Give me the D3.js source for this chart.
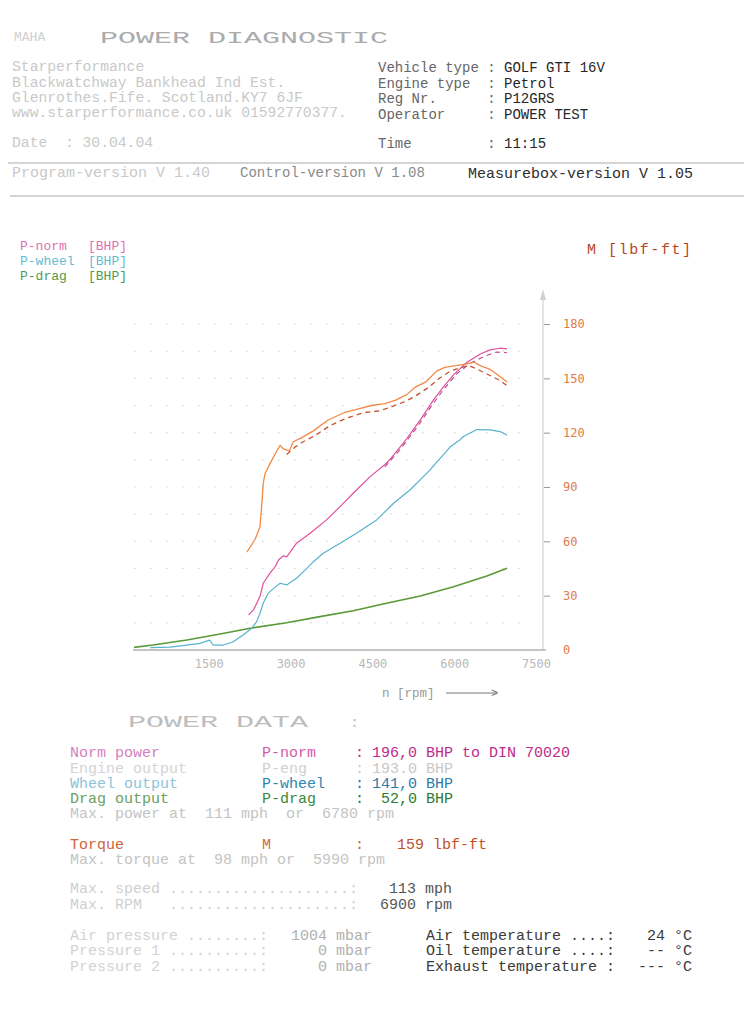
<!DOCTYPE html>
<html>
<head>
<meta charset="utf-8">
<script src="https://cdn.jsdelivr.net/npm/d3@7/dist/d3.min.js"></script>
<style>
  body { margin: 0; background: #fff; }
  svg { display: block; }
  text { font-family: "Liberation Mono", "DejaVu Sans Mono", monospace; }
</style>
</head>
<body>
<div id="chart"></div>
<script>
// ---- data ----
const torqueRpm = [2070, 2220, 2310, 2340, 2370, 2400, 2460, 2530, 2620, 2680, 2740, 2850, 2920, 3060, 3290, 3560, 3850, 4100, 4350, 4600, 4800, 5000, 5150, 5350, 5550, 5700, 5900, 6100, 6230, 6350, 6530, 6710, 6840];
const torqueM   = [54, 61, 68, 79, 92, 97, 101, 105, 110, 113, 111, 110, 115, 117, 121, 127, 131, 133, 135, 136, 138, 141, 145, 148, 154, 156, 157, 158, 159, 157, 155, 151, 148];

const torque2Rpm = [2800, 2950, 3100, 3300, 3600, 3900, 4200, 4500, 4700, 4950, 5150, 5400, 5600, 5800, 6000, 6150, 6300, 6500, 6700, 6840];
const torque2M   = [108, 112, 115, 118, 124, 128, 131, 132, 134, 137, 140, 145, 150, 154, 156, 157, 155, 152, 149, 146];

const normRpm = [2100, 2190, 2310, 2370, 2490, 2590, 2650, 2740, 2800, 2980, 3230, 3530, 3780, 4020, 4330, 4630, 4760, 5000, 5250, 5490, 5670, 5860, 6100, 6350, 6530, 6710, 6840];
const normP   = [22.6, 25.8, 34.4, 43, 49.4, 53.7, 58, 60.7, 60, 68.8, 75.2, 83.8, 92.4, 101, 111.7, 120.3, 125.6, 136, 148.2, 161, 169.3, 177.2, 185.2, 190.7, 193.3, 194.4, 194];

const engRpm = [4600, 4900, 5200, 5430, 5670, 5920, 6160, 6410, 6650, 6840];
const engP   = [118, 130, 144, 156, 167.5, 178, 184.5, 189, 192, 191.5];

const wheelRpm = [300, 660, 970, 1210, 1390, 1450, 1640, 1820, 2000, 2160, 2250, 2310, 2370, 2460, 2560, 2680, 2800, 2980, 3170, 3290, 3470, 3780, 4080, 4450, 4760, 5060, 5430, 5550, 5730, 5800, 5980, 6040, 6290, 6530, 6710, 6840];
const wheelP   = [1.5, 1.8, 3.2, 4.3, 6.4, 3.2, 3.2, 5.3, 9.7, 14, 18.3, 23.6, 30.1, 36.5, 39.7, 43, 41.9, 46.2, 52.6, 56.9, 62.3, 68.8, 75.2, 83.8, 94.5, 103.1, 116, 121, 128, 131, 135.5, 137.5, 142, 141.8, 140.7, 138.5];

const dragRpm = [0, 350, 970, 1580, 2130, 2800, 3410, 4020, 4630, 5250, 5860, 6470, 6840];
const dragP   = [1.7, 3.2, 6.4, 10.3, 14, 17.6, 21.5, 25.3, 30.1, 34.8, 40.8, 47.7, 52.6];

const rpmTicks = [1500, 3000, 4500, 6000, 7500];
const torqueTicks = [0, 30, 60, 90, 120, 150, 180];

const W = 744, H = 1024;
const svg = d3.select("#chart").append("svg")
  .attr("width", W).attr("height", H)
  .style("background", "#fff");

function txt(x, y, s, color, size, extra) {
  const t = svg.append("text").attr("x", x).attr("y", y)
    .attr("fill", color).style("font-size", (size || 14) + "px")
    .attr("xml:space", "preserve").style("white-space", "pre").text(s);
  if (extra) extra(t);
  return t;
}

// ---- header ----
txt(14, 41, "MAHA", "#d0d0d0", 13);
txt(100, 43, "POWER DIAGNOSTIC", "#ababab", 17,
  t => t.attr("textLength", 288).attr("lengthAdjust", "spacingAndGlyphs"));

const faint = "#c9c9c9";
txt(12, 71, "Starperformance", faint, 14.7);
txt(12, 87, "Blackwatchway Bankhead Ind Est.", faint, 14.7);
txt(12, 102, "Glenrothes.Fife. Scotland.KY7 6JF", faint, 14.7);
txt(12, 117, "www.starperformance.co.uk 01592770377.", faint, 14.7);
txt(12, 147, "Date  : 30.04.04", faint, 14.7);

const hdr = [["Vehicle type ", "GOLF GTI 16V", 72], ["Engine type  ", "Petrol", 88],
             ["Reg Nr.      ", "P12GRS", 103], ["Operator     ", "POWER TEST", 119], ["Time         ", "11:15", 148]];
hdr.forEach(([k, v, y]) => {
  const t = txt(378, y, "", "#666", 14);
  t.append("tspan").text(k + ": ");
  t.append("tspan").attr("fill", "#262626").text(v);
});

svg.append("line").attr("x1", 8).attr("x2", W).attr("y1", 163).attr("y2", 163).attr("stroke", "#aaa");
txt(12, 177, "Program-version V 1.40", faint, 15);
txt(240, 177, "Control-version V 1.08", "#8a8a8a", 14);
txt(468, 178, "Measurebox-version V 1.05", "#2e2e2e", 15);
svg.append("line").attr("x1", 10).attr("x2", W).attr("y1", 196).attr("y2", 196).attr("stroke", "#aaa");

// ---- legend ----
const cNorm = "#e0509e", cWheel = "#58b2cf", cDrag = "#5a9a38", cTorque = "#f08a45", cTorque2 = "#c4552e";
[["P-norm", "#e070b4", 250], ["P-wheel", "#62bcd4", 265], ["P-drag", "#4f9a4f", 280]].forEach(([k, c, y]) => {
  txt(20, y, k, c, 13);
  txt(88, y, "[BHP]", c, 13);
});
txt(587, 254, "M [lbf-ft]", "#b8452a", 15, t => t.attr("textLength", 104));

// ---- scales ----
const x = d3.scaleLinear().domain([0, 7500]).range([134, 543]);
const yT = d3.scaleLinear().domain([0, 180]).range([650, 324]);
const yP = d3.scaleLinear().domain([0, 210]).range([650, 324]);

// dotted grid
const grid = svg.append("g");
d3.range(15, 181, 15).forEach(v => {
  grid.append("line")
    .attr("x1", x(0)).attr("x2", x(7300))
    .attr("y1", yT(v)).attr("y2", yT(v))
    .attr("stroke", "#d4d4d4").attr("stroke-width", 1.2)
    .attr("stroke-dasharray", "1.5,14.5");
});

// right torque axis
const axR = svg.append("g").attr("transform", `translate(${x(7500)},0)`)
  .call(d3.axisRight(yT).tickValues(torqueTicks).tickSize(6).tickPadding(14).tickFormat(d3.format("d")));
axR.select(".domain").remove();
axR.selectAll(".tick line").attr("stroke", "#999").attr("transform", "translate(1,0)");
axR.selectAll(".tick line").filter(d => d === 0).remove();
axR.selectAll(".tick text").attr("fill", "#e07a48")
  .style("font-family", "'DejaVu Sans Mono', monospace").style("font-size", "12px");
svg.append("line").attr("x1", x(7500)).attr("x2", x(7500)).attr("y1", 650).attr("y2", 292)
  .attr("stroke", "#c8c8c8");
svg.append("path").attr("d", `M${x(7500) - 3},300 L${x(7500)},289 L${x(7500) + 3},300 Z`)
  .attr("fill", "#d0d0d0");

// bottom rpm axis
const axB = svg.append("g").attr("transform", "translate(0,650)")
  .call(d3.axisBottom(x).tickValues(rpmTicks).tickSize(0).tickPadding(9).tickFormat(d3.format("d")));
axB.select(".domain").remove();
axB.selectAll(".tick text").attr("fill", "#b8b8b8").attr("dx", -7)
  .style("font-family", "'DejaVu Sans Mono', monospace").style("font-size", "12px");
svg.append("line").attr("x1", 133).attr("x2", 546).attr("y1", 650).attr("y2", 650)
  .attr("stroke", "#8a8a8a").attr("stroke-width", 1.2);

txt(382, 697, "n [rpm]", "#9a9a9a", 12.5);
svg.append("line").attr("x1", 446).attr("x2", 497).attr("y1", 693).attr("y2", 693).attr("stroke", "#777");
txt(491, 697, ">", "#777", 12);

// ---- curves ----
function curve(rpms, vals, yScale, color, width, dash) {
  const pts = rpms.map((r, i) => [r, vals[i]]);
  const line = d3.line().x(d => x(d[0])).y(d => yScale(d[1]));
  const p = svg.append("path").datum(pts).attr("d", line)
    .attr("fill", "none").attr("stroke", color).attr("stroke-width", width)
    .attr("stroke-linejoin", "round");
  if (dash) p.attr("stroke-dasharray", dash);
  return p;
}
curve(dragRpm, dragP, yP, cDrag, 1.6);
curve(wheelRpm, wheelP, yP, cWheel, 1.2);
curve(engRpm, engP, yP, "#b8408a", 1.1, "5,4");
curve(normRpm, normP, yP, cNorm, 1.2);
curve(torque2Rpm, torque2M, yT, cTorque2, 1.3, "5,4");
curve(torqueRpm, torqueM, yT, cTorque, 1.3);

// ---- power data ----
txt(128, 727, "POWER DATA", "#bdbdbd", 16,
  t => t.attr("textLength", 180).attr("lengthAdjust", "spacingAndGlyphs"));
txt(350, 727, ":", "#bdbdbd", 15);

const rows = [
  ["Norm power", "#d67fbf", "P-norm", "#d35aa8", "196,0 BHP to DIN 70020", "#c02a8a", 757],
  ["Engine output", "#d4d4d4", "P-eng", "#d0d0d0", "193.0 BHP", "#c8c8c8", 773],
  ["Wheel output", "#8cc4d8", "P-wheel", "#2f86b0", "141,0 BHP", "#2f7aa8", 788],
  ["Drag output", "#6aa060", "P-drag", "#3a8a3a", " 52,0 BHP", "#2e7a2e", 803]
];
rows.forEach(([a, ca, b, cb, v, cv, y]) => {
  txt(70, y, a, ca, 15);
  txt(262, y, b, cb, 15);
  txt(355, y, ":", cv, 15);
  txt(372, y, v, cv, 15);
});
txt(70, 818, "Max. power at  111 mph  or  6780 rpm", "#c4c4c4", 15);
txt(70, 849, "Torque", "#d0643a", 15);
txt(262, 849, "M", "#d06a40", 15);
txt(355, 849, ":", "#c8603a", 15);
txt(397, 849, "159 lbf-ft", "#c0502a", 15);
txt(70, 864, "Max. torque at  98 mph or  5990 rpm", "#c4c4c4", 15);

txt(70, 893, "Max. speed ....................:", "#cfcfcf", 15);
txt(452, 893, "113 mph", "#555", 15, t => t.attr("text-anchor", "end"));
txt(70, 909, "Max. RPM   ....................:", "#cfcfcf", 15);
txt(452, 909, "6900 rpm", "#555", 15, t => t.attr("text-anchor", "end"));

const env = [["Air pressure ........:", "1004 mbar", "Air temperature ....:", "24 °C", 940],
             ["Pressure 1 ..........:", "0 mbar", "Oil temperature ....:", "-- °C", 955],
             ["Pressure 2 ..........:", "0 mbar", "Exhaust temperature :", "--- °C", 971]];
env.forEach(([a, b, c, d, y]) => {
  txt(70, y, a, "#d2d2d2", 15);
  txt(372, y, b, "#b0b0b0", 15, t => t.attr("text-anchor", "end"));
  txt(426, y, c, "#3a3a3a", 15);
  txt(692, y, d, "#3a3a3a", 15, t => t.attr("text-anchor", "end"));
});
</script>
</body>
</html>
